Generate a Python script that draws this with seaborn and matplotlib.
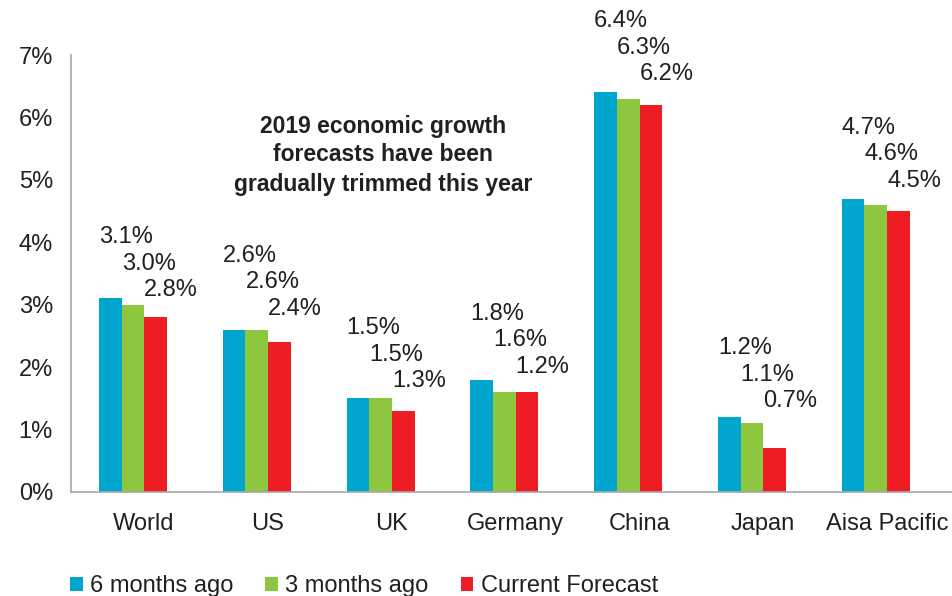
import numpy as np
import pandas as pd
import matplotlib
matplotlib.use("Agg")
import matplotlib.pyplot as plt
import seaborn as sns
from matplotlib.patches import Patch

# ---- data ----
regions = ["World", "US", "UK", "Germany", "China", "Japan", "Aisa Pacific"]
series = ["6 months ago", "3 months ago", "Current Forecast"]
six_months = [3.1, 2.6, 1.5, 1.8, 6.4, 1.2, 4.7]
three_months = [3.0, 2.6, 1.5, 1.6, 6.3, 1.1, 4.6]
current = [2.8, 2.4, 1.3, 1.6, 6.2, 0.7, 4.5]
label_six = ["3.1%", "2.6%", "1.5%", "1.8%", "6.4%", "1.2%", "4.7%"]
label_three = ["3.0%", "2.6%", "1.5%", "1.6%", "6.3%", "1.1%", "4.6%"]
label_current = ["2.8%", "2.4%", "1.3%", "1.2%", "6.2%", "0.7%", "4.5%"]
y_ticks = [0, 1, 2, 3, 4, 5, 6, 7]
y_tick_labels = ["0%", "1%", "2%", "3%", "4%", "5%", "6%", "7%"]
note_lines = ["2019 economic growth", "forecasts have been", "gradually trimmed this year"]

# ---- layout / style ----
colors = ["#00A6CE", "#8DC63F", "#EE1D24"]
text_color = "#231F20"
axis_gray = "#A7A7A7"
label_lift_px = [61, 74, 70, 66, 71, 69, 71]   # height of first label above blue bar
label_step_px = 26.5
FS = 17

df = pd.DataFrame({
    "region": regions * 3,
    "series": [s for s in series for _ in regions],
    "value": six_months + three_months + current,
})
labels_all = [label_six, label_three, label_current]

sns.set_theme(style="white")
plt.rcParams["font.family"] = ["Liberation Sans", "DejaVu Sans"]

W, H = 953, 596
fig = plt.figure(figsize=(W / 100, H / 100), dpi=100)
ax = fig.add_axes([71 / W, 1 - 492 / H, (W - 71) / W, 437 / H])

sns.barplot(data=df, x="region", y="value", hue="series", order=regions,
            hue_order=series, palette=colors, width=0.55, gap=0,
            saturation=1, linewidth=0, legend=False, ax=ax)

ax.set_xlim(-0.5008, 6.624)
ax.set_ylim(0, 7)
ax.set_xlabel("")
ax.set_ylabel("")

for s in ["top", "right"]:
    ax.spines[s].set_visible(False)
for s in ["left", "bottom"]:
    ax.spines[s].set_color(axis_gray)
    ax.spines[s].set_linewidth(1.2)

ax.set_yticks(y_ticks, labels=y_tick_labels)
ax.tick_params(axis="y", direction="in", length=4.5, width=1, color=axis_gray,
               pad=13, labelsize=FS, labelcolor=text_color)

shift = 11 / 123.8
ax.set_xticks(np.arange(len(regions)) + shift, labels=regions)
ax.tick_params(axis="x", which="major", length=0, pad=15, labelsize=FS,
               labelcolor=text_color)
ax.set_xticks(np.arange(len(regions) - 1) + 0.5 + shift, minor=True)
ax.tick_params(axis="x", which="minor", direction="in", length=4.5, width=1,
               color=axis_gray)

# value labels, staggered
blue_bars = ax.containers[0]
for k, cont in enumerate(ax.containers):
    for i, bar in enumerate(cont):
        base = blue_bars[i].get_height()
        dy_pt = (label_lift_px[i] - k * label_step_px) * 0.72
        ax.annotate(labels_all[k][i], xy=(bar.get_x(), base),
                    xytext=(0, dy_pt), textcoords="offset points",
                    ha="left", va="center", fontsize=FS, color=text_color,
                    annotation_clip=False)

# note
for j, line in enumerate(note_lines):
    fig.text(383 / W, 1 - (126 + 29 * j) / H, line, ha="center", va="center",
             fontsize=16.5, fontweight="bold", color=text_color)

handles = [Patch(facecolor=c, edgecolor="none", label=s) for c, s in zip(colors, series)]
fig.legend(handles=handles, loc="center left", bbox_to_anchor=(70 / W, 1 - 586 / H),
           ncol=3, frameon=False, fontsize=FS, handlelength=0.55, handleheight=0.55,
           handletextpad=0.3, columnspacing=1.35, borderpad=0, borderaxespad=0,
           labelcolor=text_color)

fig.savefig("out.png", dpi=100)
